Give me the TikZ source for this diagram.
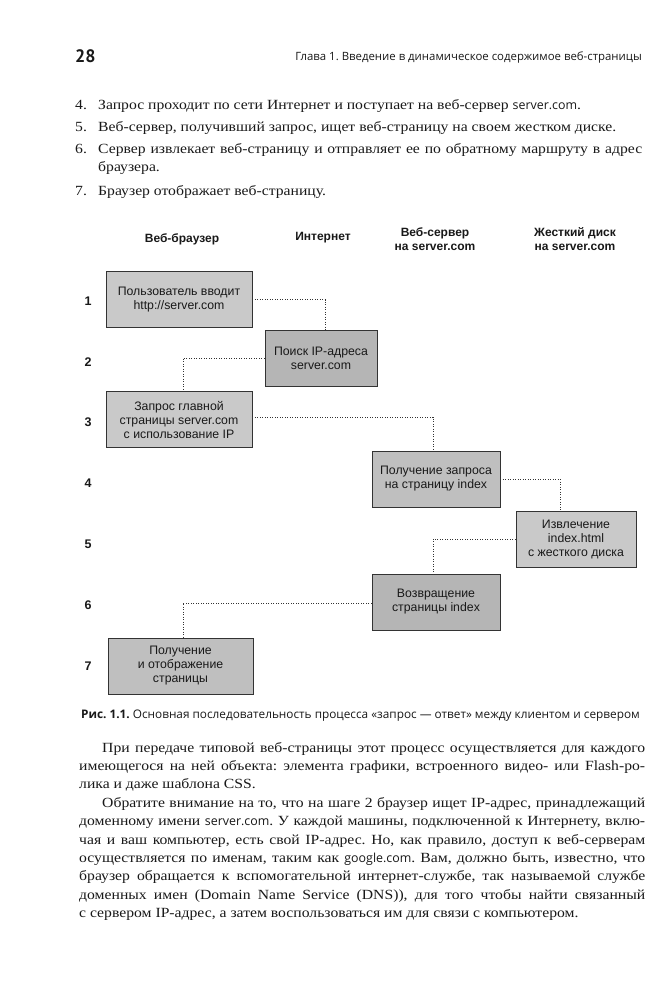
\documentclass[tikz,border=0pt]{standalone}
\usepackage{fontspec}
\setmainfont[FakeStretch=1.12]{Liberation Serif}
\newfontfamily\hsans{PT Sans}
\newfontfamily\osans{Open Sans}
\newfontfamily\dsans{Liberation Sans}
\definecolor{boxA}{gray}{0.79}
\definecolor{boxB}{gray}{0.71}
\definecolor{boxC}{gray}{0.75}
\definecolor{ink}{gray}{0.1}
\frenchspacing
\tikzset{
  box/.style={draw=black!80, line width=0.9pt, minimum height=56pt, inner sep=0pt,
    align=center, text=ink, font=\dsans\fontsize{12.3}{14}\selectfont},
  conn/.style={draw=black!80, line width=0.9pt, dash pattern=on 0.9pt off 1.6pt},
  rowlab/.style={text=ink, inner sep=0pt, font=\dsans\bfseries\fontsize{12.5}{14}\selectfont},
  colhead/.style={text=ink, inner sep=0pt, align=center, font=\dsans\bfseries\fontsize{12}{14}\selectfont},
  bodyline/.style={anchor=base west, inner sep=0pt, text=ink, font=\fontsize{14}{18}\selectfont\frenchspacing},
  sansline/.style={anchor=base west, inner sep=0pt, text=ink, font=\osans\fontsize{11.8}{13}\selectfont},
}
\newcommand{\sv}[1]{{\osans\fontsize{12.4}{14}\selectfont #1}}
\begin{document}
\begin{tikzpicture}[x=1pt,y=-1pt]
\useasboundingbox[fill=white] (0,0) rectangle (670,1000);
% running head
\node[anchor=base west, inner sep=0pt, text=ink, font=\hsans\bfseries\fontsize{18}{20}\selectfont] (pnum) at (75,63) {28};
\node[anchor=base east, inner sep=0pt, text=ink, font=\osans\fontsize{11.4}{14}\selectfont] (rhead) at (642,61) {Глава 1. Введение в динамическое содержимое веб-страницы};
% list
\node[bodyline] (n4) at (75,110) {4.};
\node[bodyline] (l4) at (98,110) {Запрос проходит по сети Интернет и поступает на веб-сервер \sv{server.com}.};
\node[bodyline] (n5) at (75,132) {5.};
\node[bodyline] (l5) at (98,132) {Веб-сервер, получивший запрос, ищет веб-страницу на своем жестком диске.};
\node[bodyline] (n6) at (75,154) {6.};
\node[bodyline] (l6a) at (98,154) {\makebox[544pt][s]{Сервер извлекает веб-страницу и отправляет ее по обратному маршруту в адрес}};
\node[bodyline] (l6b) at (98,172) {браузера.};
\node[bodyline] (n7) at (75,196) {7.};
\node[bodyline] (l7) at (98,196) {Браузер отображает веб-страницу.};
% column heads
\node[colhead] (h1) at (182,239) {Веб-браузер};
\node[colhead] (h2) at (323,238) {Интернет};
\node[colhead] (h3) at (435,239) {Веб-сервер\\на server.com};
\node[colhead] (h4) at (575,239.5) {Жесткий диск\\на server.com};
% row labels
\node[rowlab] (r1) at (88,301) {1};
\node[rowlab] (r2) at (88,362) {2};
\node[rowlab] (r3) at (88,422) {3};
\node[rowlab] (r4) at (88,483) {4};
\node[rowlab] (r5) at (88,544) {5};
\node[rowlab] (r6) at (88,605) {6};
\node[rowlab] (r7) at (88,666) {7};
% boxes
\node[box, fill=boxA, minimum width=146pt] (b1) at (179,299.5) {Пользователь вводит\\http://server.com};
\node[box, fill=boxB, minimum width=112pt] (b2) at (321,358) {Поиск IP-адреса\\server.com};
\node[box, fill=boxA, minimum width=146pt] (b3) at (179,419.5) {Запрос главной\\страницы server.com\\с использование IP};
\node[box, fill=boxC, minimum width=128pt] (b4) at (436,479) {Получение запроса\\на страницу index};
\node[box, fill=boxA, minimum width=120pt] (b5) at (576,539) {Извлечение\\index.html\\с жесткого диска};
\node[box, fill=boxB, minimum width=128pt] (b6) at (436,602) {Возвращение\\страницы index};
\node[box, fill=boxC, minimum width=145pt] (b7) at (180.5,666) {Получение\\и отображение\\страницы};
% connectors
\draw[conn] (b1.east) -| ([xshift=4pt]b2.north);
\draw[conn] (b2.west) -| ([xshift=4pt]b3.north);
\draw[conn] ([yshift=2.5pt]b3.east) -| ([xshift=-3pt]b4.north);
\draw[conn] (b4.east) -| ([xshift=-16pt]b5.north);
\draw[conn] (b5.west) -| ([xshift=-3pt]b6.north);
\draw[conn] ([yshift=-1pt]b6.west) -| ([xshift=2.5pt]b7.north);
% caption
\node[sansline] (cap) at (81,718) {\textbf{Рис. 1.1.} Основная последовательность процесса «запрос — ответ» между клиентом и сервером};
% paragraphs
\node[bodyline] (p1a) at (102,752) {\makebox[543pt][s]{При передаче типовой веб-страницы этот процесс осуществляется для каждого}};
\node[bodyline] (p1b) at (79,770.4) {\makebox[566pt][s]{имеющегося на ней объекта: элемента графики, встроенного видео- или Flash-ро-}};
\node[bodyline] (p1c) at (79,788.8) {лика и даже шаблона CSS.};
\node[bodyline] (p2a) at (102,807.2) {\makebox[543pt][s]{Обратите внимание на то, что на шаге 2 браузер ищет IP-адрес, принадлежащий}};
\node[bodyline] (p2b) at (79,825.6) {\makebox[566pt][s]{доменному имени \sv{server.com}. У каждой машины, подключенной к Интернету, вклю-}};
\node[bodyline] (p2c) at (79,844) {\makebox[566pt][s]{чая и ваш компьютер, есть свой IP-адрес. Но, как правило, доступ к веб-серверам}};
\node[bodyline] (p2d) at (79,862.4) {\makebox[566pt][s]{осуществляется по именам, таким как \sv{google.com}. Вам, должно быть, известно, что}};
\node[bodyline] (p2e) at (79,880.8) {\makebox[566pt][s]{браузер обращается к вспомогательной интернет-службе, так называемой службе}};
\node[bodyline] (p2f) at (79,899.2) {\makebox[566pt][s]{доменных имен (Domain Name Service (DNS)), для того чтобы найти связанный}};
\node[bodyline] (p2g) at (79,917.6) {с сервером IP-адрес, а затем воспользоваться им для связи с компьютером.};
\end{tikzpicture}
\end{document}
